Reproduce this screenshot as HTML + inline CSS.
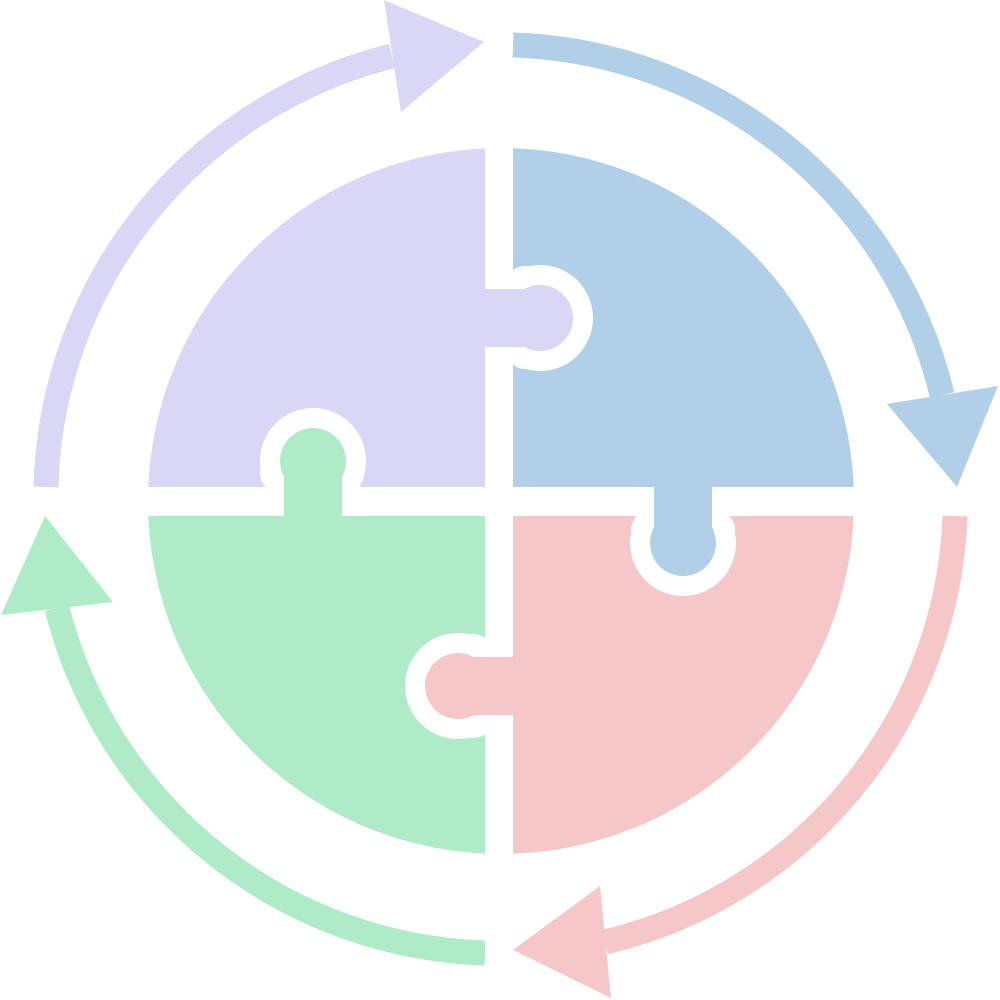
<!DOCTYPE html>
<html><head><meta charset="utf-8"><style>html,body{margin:0;padding:0;background:#fff}svg{display:block}</style></head>
<body>
<svg width="1000" height="1000" viewBox="0 0 1000 1000" xmlns="http://www.w3.org/2000/svg">
<defs>
<clipPath id="q1"><rect x="0" y="0" width="485" height="487"/></clipPath>
<clipPath id="q2"><rect x="513" y="0" width="487" height="487"/></clipPath>
<clipPath id="q3"><rect x="513" y="516" width="487" height="484"/></clipPath>
<clipPath id="q4"><rect x="0" y="516" width="485" height="484"/></clipPath>
</defs>
<g>
<circle cx="501" cy="501" r="353" fill="#d9d7f5" clip-path="url(#q1)"/>
<circle cx="501" cy="501" r="353" fill="#b1cfe6" clip-path="url(#q2)"/>
<circle cx="501" cy="501" r="353" fill="#f6c7c8" clip-path="url(#q3)"/>
<circle cx="501" cy="501" r="353" fill="#b0ebc7" clip-path="url(#q4)"/>
</g>
<!-- tab 1: purple into blue -->
<circle cx="540" cy="318" r="53" fill="#fff"/>
<rect x="505" y="266" width="40" height="103" rx="20" fill="#fff"/>
<rect x="470" y="289" width="70" height="58" rx="6" fill="#d9d7f5"/>
<circle cx="540" cy="318" r="33" fill="#d9d7f5"/>
<!-- tab 2: green into purple -->
<circle cx="313" cy="461" r="53" fill="#fff"/>
<rect x="260" y="453" width="104" height="40" rx="20" fill="#fff"/>
<rect x="284" y="461" width="58" height="70" rx="6" fill="#b0ebc7"/>
<circle cx="313" cy="461" r="33" fill="#b0ebc7"/>
<!-- tab 3: blue into pink -->
<circle cx="683" cy="543" r="53" fill="#fff"/>
<rect x="631" y="510" width="104" height="40" rx="20" fill="#fff"/>
<rect x="654" y="473" width="58" height="70" rx="6" fill="#b1cfe6"/>
<circle cx="683" cy="543" r="33" fill="#b1cfe6"/>
<!-- tab 4: pink into green -->
<circle cx="458" cy="686" r="53" fill="#fff"/>
<rect x="453" y="634" width="40" height="104" rx="20" fill="#fff"/>
<rect x="458" y="657" width="70" height="58" rx="6" fill="#f6c7c8"/>
<circle cx="458" cy="686" r="33" fill="#f6c7c8"/>
<!-- arrows -->
<g fill="none" stroke-width="25" stroke-linecap="butt">
<path d="M513,45 A456,456 0 0 1 942,395" stroke="#b1cfe6"/>
<path d="M955,516 A455,455 0 0 1 605,942" stroke="#f6c7c8"/>
<path d="M485,953 A456,456 0 0 1 57,608" stroke="#b0ebc7"/>
<path d="M46,487 A456,456 0 0 1 392,56" stroke="#d9d7f5"/>
</g>
<polygon points="887,404 998,386 957,487" fill="#b1cfe6"/>
<polygon points="513,950 600,886 611,998" fill="#f6c7c8"/>
<polygon points="45,516 113,602 1,615" fill="#b0ebc7"/>
<polygon points="384,0 484,42 401,112" fill="#d9d7f5"/>
</svg>
</body></html>
